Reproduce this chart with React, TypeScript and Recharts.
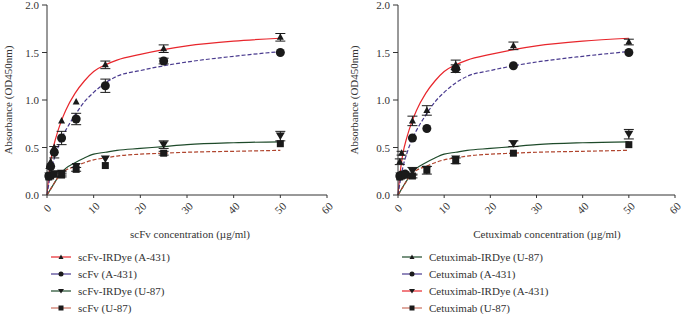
import React from "react";
import { ComposedChart, Line, Scatter, ErrorBar, XAxis, YAxis } from "recharts";

const CONC = [0.39, 0.78, 1.56, 3.125, 6.25, 12.5, 25, 50];
const X_TICKS = [0, 10, 20, 30, 40, 50, 60];
const Y_TICKS = [0, 0.5, 1, 1.5, 2];

// fitted curves
const FIT_X = [0, 0.5, 1, 2, 3, 4, 6, 8, 10, 12.5, 15, 20, 25, 30, 40, 50];
const FIT_RED = [0, 0.25, 0.42, 0.62, 0.77, 0.89, 1.07, 1.2, 1.3, 1.37, 1.42, 1.48, 1.53, 1.57, 1.62, 1.65];
const FIT_PURPLE = [0, 0.15, 0.28, 0.45, 0.58, 0.68, 0.84, 0.98, 1.08, 1.18, 1.25, 1.31, 1.36, 1.4, 1.46, 1.51];
const FIT_GREEN = [0, 0.04, 0.08, 0.16, 0.23, 0.28, 0.34, 0.39, 0.43, 0.45, 0.47, 0.49, 0.51, 0.53, 0.55, 0.56];
const FIT_BROWN = [0, 0.04, 0.08, 0.16, 0.22, 0.26, 0.3, 0.34, 0.37, 0.39, 0.41, 0.43, 0.44, 0.45, 0.46, 0.47];

// left panel points (scFv)
const L_TRI = [0.3, 0.35, 0.5, 0.78, 0.98, 1.37, 1.54, 1.66];
const L_TRI_ERR = [0, 0, 0, 0, 0, 0.04, 0.04, 0.04];
const L_CIRC = [0.2, 0.3, 0.45, 0.6, 0.8, 1.15, 1.41, 1.5];
const L_CIRC_ERR = [0, 0, 0.06, 0.07, 0.06, 0.07, 0.03, 0];
const L_DOWN = [0.2, 0.2, 0.22, 0.23, 0.3, 0.38, 0.53, 0.62];
const L_DOWN_ERR = [0, 0, 0, 0.02, 0, 0, 0.04, 0.05];
const L_SQ = [0.19, 0.2, 0.22, 0.21, 0.27, 0.31, 0.44, 0.54];
const L_SQ_ERR = [0, 0, 0.03, 0.02, 0.02, 0, 0.02, 0];

// right panel points (Cetuximab)
const R_TRI = [0.35, 0.44, null, 0.78, 0.89, 1.37, 1.57, 1.61];
const R_TRI_ERR = [0.03, 0.02, 0, 0.05, 0.05, 0.05, 0.04, 0.03];
const R_CIRC = [0.2, 0.21, 0.22, 0.6, 0.7, 1.33, 1.36, 1.5];
const R_CIRC_ERR = [0, 0, 0, 0, 0, 0.04, 0, 0];
const R_DOWN = [0.2, 0.2, 0.21, 0.25, 0.27, 0.38, 0.54, 0.64];
const R_DOWN_ERR = [0, 0, 0, 0.04, 0, 0, 0.03, 0.05];
const R_SQ = [0.19, 0.2, 0.21, 0.2, 0.26, 0.36, 0.44, 0.53];
const R_SQ_ERR = [0, 0, 0, 0.02, 0.04, 0.03, 0, 0];

const RED = "#e8262c";
const PURPLE = "#4a3b8f";
const GREEN = "#1e4a2a";
const BROWN = "#b0452e";
const INK = "#1a1a1a";
const FONT = "'Liberation Serif', 'DejaVu Serif', serif";

const fit = (ys: number[]) => FIT_X.map((x, i) => ({ x, y: ys[i] }));
const pts = (ys: (number | null)[], errs: number[]) =>
  CONC.map((x, i) => ({ x, y: ys[i], err: errs[i] ? errs[i] : undefined })).filter((d) => d.y != null);

const TriUp = (p: any) => (
  <polygon points={`${p.cx},${p.cy - 4} ${p.cx - 3.5},${p.cy + 2.5} ${p.cx + 3.5},${p.cy + 2.5}`} fill={INK} />
);
const TriDown = (p: any) => (
  <polygon points={`${p.cx - 4.5},${p.cy - 3.5} ${p.cx + 4.5},${p.cy - 3.5} ${p.cx},${p.cy + 4}`} fill={INK} />
);
const Dot = (p: any) => <circle cx={p.cx} cy={p.cy} r={4.5} fill={INK} />;
const Sq = (p: any) => <rect x={p.cx - 3.5} y={p.cy - 3.5} width={7} height={7} fill={INK} />;

const XTick = (p: any) => (
  <text
    x={p.x}
    y={p.y + 8}
    transform={`rotate(-45 ${p.x} ${p.y + 8})`}
    textAnchor="middle"
    dominantBaseline="central"
    fontSize={11}
    fontFamily={FONT}
    fill="#333"
  >
    {p.payload.value}
  </text>
);

const YTick = (p: any) => (
  <text x={p.x - 1} y={p.y} textAnchor="end" dominantBaseline="central" fontSize={11} fontFamily={FONT} fill="#333">
    {p.payload.value.toFixed(1)}
  </text>
);

type Series = { name: string; line: string; shape: any };

function Panel({ xTitle, leftPad, rightPad, points, legend, titleShift }: any) {
  return (
    <div style={{ position: "relative", width: 341, height: 314 }}>
      <ComposedChart width={341} height={230} margin={{ top: 5, right: rightPad, bottom: 30, left: 7 + leftPad }}>
        <XAxis
          type="number"
          dataKey="x"
          domain={[0, 60]}
          ticks={X_TICKS}
          interval={0}
          tick={<XTick />}
          tickSize={3}
          height={5}
          stroke="#333"
          allowDuplicatedCategory={false}
        />
        <YAxis
          type="number"
          dataKey="y"
          domain={[0, 2]}
          ticks={Y_TICKS}
          interval={0}
          tick={<YTick />}
          tickSize={5}
          width={40}
          stroke="#333"
        />
        <Line data={fit(FIT_RED)} dataKey="y" type="monotone" stroke={RED} strokeWidth={1.2} dot={false} isAnimationActive={false} />
        <Line data={fit(FIT_PURPLE)} dataKey="y" type="monotone" stroke={PURPLE} strokeWidth={1.2} strokeDasharray="4 2" dot={false} isAnimationActive={false} />
        <Line data={fit(FIT_GREEN)} dataKey="y" type="monotone" stroke={GREEN} strokeWidth={1.2} dot={false} isAnimationActive={false} />
        <Line data={fit(FIT_BROWN)} dataKey="y" type="monotone" stroke={BROWN} strokeWidth={1.2} strokeDasharray="4 2" dot={false} isAnimationActive={false} />
        {points.map((s: any, i: number) => (
          <Scatter key={i} data={s.data} dataKey="y" shape={s.shape} isAnimationActive={false}>
            <ErrorBar dataKey="err" direction="y" width={5} stroke={INK} strokeWidth={1} />
          </Scatter>
        ))}
      </ComposedChart>
      <div
        style={{
          position: "absolute",
          left: 1 + leftPad / 2,
          top: 100,
          transform: "translate(-50%, -50%) rotate(-90deg)",
          whiteSpace: "nowrap",
          fontFamily: FONT,
          fontSize: 11,
          color: "#333",
          marginLeft: 7,
        }}
      >
        Absorbance (OD450nm)
      </div>
      <div
        style={{
          position: "absolute",
          left: 190 + titleShift,
          top: 234,
          transform: "translate(-50%, -50%)",
          whiteSpace: "nowrap",
          fontFamily: FONT,
          fontSize: 11,
          color: "#333",
        }}
      >
        {xTitle}
      </div>
      {legend.map((s: Series, i: number) => (
        <div
          key={s.name}
          style={{
            position: "absolute",
            left: 50 + leftPad,
            top: 257 + i * 17 - 8,
            height: 16,
            display: "flex",
            alignItems: "center",
            fontFamily: FONT,
            fontSize: 11,
            color: "#333",
            whiteSpace: "nowrap",
          }}
        >
          <svg width={28} height={16}>
            <line x1={1} y1={8} x2={21} y2={8} stroke={s.line} strokeWidth={1.2} />
            {s.shape({ cx: 11, cy: 8 })}
          </svg>
          <span>{s.name}</span>
        </div>
      ))}
    </div>
  );
}

const SmTri = (p: any) => (
  <polygon points={`${p.cx},${p.cy - 2.5} ${p.cx - 2.5},${p.cy + 2} ${p.cx + 2.5},${p.cy + 2}`} fill={INK} />
);
const SmDown = (p: any) => (
  <polygon points={`${p.cx - 3},${p.cy - 2} ${p.cx + 3},${p.cy - 2} ${p.cx},${p.cy + 2.5}`} fill={INK} />
);
const SmDot = (p: any) => <circle cx={p.cx} cy={p.cy} r={2.5} fill={INK} />;
const SmSq = (p: any) => <rect x={p.cx - 2.5} y={p.cy - 2.5} width={5} height={5} fill={INK} />;

export default function App() {
  const leftPoints = [
    { data: pts(L_TRI, L_TRI_ERR), shape: TriUp },
    { data: pts(L_CIRC, L_CIRC_ERR), shape: Dot },
    { data: pts(L_DOWN, L_DOWN_ERR), shape: TriDown },
    { data: pts(L_SQ, L_SQ_ERR), shape: Sq },
  ];
  const rightPoints = [
    { data: pts(R_TRI, R_TRI_ERR), shape: TriUp },
    { data: pts(R_CIRC, R_CIRC_ERR), shape: Dot },
    { data: pts(R_DOWN, R_DOWN_ERR), shape: TriDown },
    { data: pts(R_SQ, R_SQ_ERR), shape: Sq },
  ];
  const leftLegend: Series[] = [
    { name: "scFv-IRDye (A-431)", line: RED, shape: SmTri },
    { name: "scFv (A-431)", line: PURPLE, shape: SmDot },
    { name: "scFv-IRDye (U-87)", line: GREEN, shape: SmDown },
    { name: "scFv (U-87)", line: "#c9705e", shape: SmSq },
  ];
  const rightLegend: Series[] = [
    { name: "Cetuximab-IRDye (U-87)", line: GREEN, shape: SmTri },
    { name: "Cetuximab (A-431)", line: PURPLE, shape: SmDot },
    { name: "Cetuximab-IRDye (A-431)", line: RED, shape: SmDown },
    { name: "Cetuximab (U-87)", line: "#c9705e", shape: SmSq },
  ];
  return (
    <div style={{ position: "absolute", left: 0, top: 0, width: 682, height: 314, background: "#fff", display: "flex" }}>
      <Panel xTitle="scFv concentration (µg/ml)" leftPad={0} rightPad={14} titleShift={0} points={leftPoints} legend={leftLegend} />
      <Panel xTitle="Cetuximab concentration (µg/ml)" leftPad={10} rightPad={7} titleShift={16} points={rightPoints} legend={rightLegend} />
    </div>
  );
}
